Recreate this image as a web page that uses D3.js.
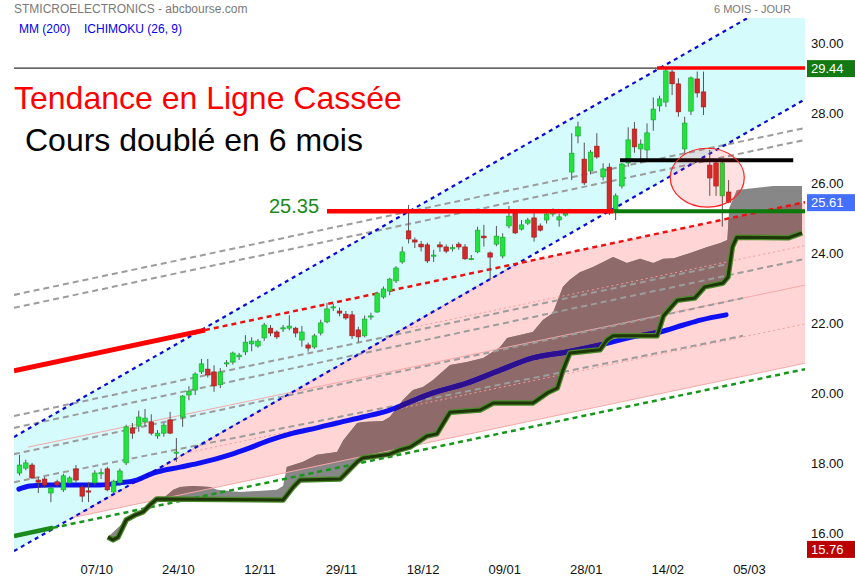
<!DOCTYPE html>
<html><head><meta charset="utf-8">
<script src="https://cdn.jsdelivr.net/npm/d3@7"></script>
<style>body{margin:0;background:#fff}svg{display:block;font-family:"Liberation Sans",Arial,sans-serif}</style>
</head><body><svg id="c" width="855" height="580"></svg>
<script>
// ---------- DATA ----------
// daily candles [open, high, low, close], index 0 = first trading day shown
const candles = [
[17.87,18.39,17.80,18.10],[18.01,18.25,17.95,18.16],[18.10,18.16,17.70,17.73],[17.67,17.75,17.30,17.61],
[17.70,17.76,17.45,17.53],[17.30,17.50,17.04,17.44],[17.62,17.68,17.48,17.53],[17.39,17.85,17.33,17.79],
[17.59,17.78,17.55,17.73],[17.99,18.10,17.60,17.67],[17.47,17.52,17.04,17.21],[17.36,17.61,17.04,17.33],
[17.59,17.95,17.52,17.87],[17.85,18.00,17.70,17.88],[17.99,18.05,17.35,17.39],[17.33,17.68,17.28,17.64],
[17.59,18.00,17.50,17.93],[18.16,19.25,18.10,19.19],[19.16,19.30,18.85,19.01],[19.21,19.65,19.05,19.47],
[19.33,19.70,19.20,19.44],[19.33,19.55,18.95,19.01],[18.93,19.10,18.85,19.01],[19.01,19.30,18.91,19.24],
[19.39,19.62,18.98,19.01],[18.44,18.87,18.19,18.47],[19.47,20.10,19.19,20.07],[20.10,20.35,19.95,20.21],
[20.24,20.75,20.10,20.70],[20.76,21.13,20.70,20.99],[20.84,21.13,20.60,20.67],[20.76,20.95,20.19,20.36],
[20.39,20.87,20.30,20.76],[21.00,21.10,20.90,21.02],[21.04,21.34,20.97,21.30],[21.19,21.30,21.10,21.24],
[21.33,21.81,21.24,21.61],[21.56,21.75,21.35,21.64],[21.50,21.70,21.45,21.64],[21.73,22.16,21.65,22.10],
[22.01,22.10,21.78,21.87],[21.90,21.95,21.70,21.76],[22.00,22.10,21.90,22.02],[22.01,22.38,21.95,22.07],
[22.01,22.05,21.75,21.87],[21.67,22.07,21.48,21.90],[21.53,21.60,21.34,21.44],[21.47,21.85,21.42,21.79],
[21.87,22.25,21.80,22.16],[22.19,22.73,22.15,22.56],[22.60,22.70,22.50,22.62],[22.50,22.60,22.35,22.44],
[22.41,22.50,22.25,22.30],[22.39,22.50,21.70,21.79],[21.96,22.05,21.61,21.76],[21.79,22.37,21.75,22.27],
[22.34,22.45,22.25,22.36],[22.47,23.05,22.45,23.01],[22.90,23.20,22.85,23.13],[23.07,23.45,22.95,23.41],
[23.36,23.78,23.30,23.73],[23.90,24.34,23.85,24.19],[24.79,25.53,24.43,24.56],[24.53,24.60,24.30,24.47],
[24.41,24.50,24.20,24.33],[24.39,24.45,23.87,23.93],[24.08,24.25,23.90,24.10],[24.39,24.48,24.19,24.33],
[24.33,24.40,24.15,24.21],[24.29,24.40,24.20,24.31],[24.41,24.47,24.25,24.33],[24.33,24.41,23.96,23.99],
[23.98,24.10,23.95,24.00],[24.19,24.91,24.15,24.81],[24.64,24.96,24.34,24.59],[24.16,24.20,23.39,24.04],
[24.41,24.93,24.35,24.64],[24.07,24.72,24.00,24.61],[24.93,25.50,24.86,25.21],[25.30,25.39,24.70,24.73],
[24.84,25.10,24.80,24.96],[25.01,25.16,24.96,25.10],[25.16,25.39,24.48,24.61],[24.93,25.00,24.77,24.81],
[25.10,25.35,25.00,25.27],[25.27,25.43,25.20,25.36],[25.10,25.28,24.91,25.19],[25.24,25.36,25.20,25.30],
[26.47,27.58,26.24,27.01],[27.50,27.91,27.29,27.76],[26.84,27.31,26.10,26.16],[26.50,27.10,26.40,27.04],
[27.21,27.58,26.85,26.90],[26.33,26.72,26.23,26.56],[26.61,26.72,25.24,25.30],[25.39,25.86,25.10,25.79],
[26.07,26.73,26.00,26.70],[26.73,27.75,26.62,27.39],[27.70,27.90,27.02,27.19],[27.13,27.40,26.73,27.27],
[27.10,27.86,26.81,27.59],[27.96,28.60,27.65,28.27],[28.36,28.65,28.20,28.56],[28.47,29.44,28.33,29.36],
[29.33,29.39,28.67,28.99],[28.99,29.15,28.05,28.19],[27.13,28.05,27.01,27.87],[28.21,29.20,28.10,29.16],
[29.13,29.34,28.60,28.73],[28.76,29.34,28.10,28.33],[26.67,27.10,25.79,26.30],[26.73,26.86,25.79,26.07],
[25.79,26.80,24.91,26.73],[25.90,26.24,25.58,25.61]
];
const xTicks = [[12,"07/10"],[25,"24/10"],[38,"12/11"],[51,"29/11"],[64,"18/12"],[77,"09/01"],[90,"28/01"],[103,"14/02"],[116,"05/03"]];
const yTicks = [30,28,26,24,22,20,18,16];
// moving average 200 [index, price]
const mm200 = [[-0.1,17.41],[1.7,17.50],[4.9,17.53],[12.8,17.53],[16.0,17.59],[18.7,17.67],[21.3,17.87],[25.6,18.04],
[28.8,18.16],[33.5,18.39],[36.7,18.59],[39.9,18.81],[43.6,19.01],[47.4,19.16],[50.6,19.30],[54.7,19.47],[59.0,19.67],
[62.2,19.90],[65.9,20.16],[71.3,20.44],[76.6,20.81],[81.8,21.16],[87.2,21.33],[92.5,21.53],[97.8,21.76],[102.1,21.90],
[105.8,22.10],[108.5,22.24],[112.6,22.39]];
// Ichimoku senkou spans (already shifted) [index, price]
const spanA = [[14.1,16.04],[17.0,16.53],[20.8,16.96],[21.9,17.13],[23.2,17.19],[24.5,17.39],[25.6,17.47],[27.7,17.50],
[30.4,17.47],[31.5,17.39],[35.1,17.33],[41.0,17.39],[42.0,17.50],[42.6,18.04],[45.2,18.19],[47.4,18.39],[50.6,18.47],
[51.6,18.81],[53.8,19.30],[54.7,19.33],[57.9,19.36],[59.0,19.47],[61.1,19.96],[62.7,20.24],[64.3,20.33],[65.9,20.53],
[68.6,20.96],[71.3,21.04],[73.9,21.16],[76.6,21.47],[77.7,21.73],[81.8,21.90],[83.4,22.24],[85.0,22.44],[86.6,23.19],
[87.7,23.39],[89.3,23.61],[91.4,23.76],[94.6,24.04],[96.8,23.87],[98.9,23.99],[101.0,23.87],[102.6,23.99],[104.3,24.01],
[106.9,24.16],[109.6,24.33],[111.7,24.44],[112.8,24.53],[113.1,25.44],[114.3,25.96],[120.1,26.07],[124.7,26.07]];
const spanB = [[14.1,16.04],[14.9,15.96],[15.7,16.04],[17.0,16.53],[18.4,16.67],[19.7,16.76],[20.8,16.96],[21.9,17.13],
[42.0,17.10],[42.6,17.24],[43.6,17.47],[44.7,17.67],[51.1,17.70],[52.2,17.90],[53.8,18.19],[54.7,18.30],[59.0,18.41],
[60.6,18.53],[62.2,18.61],[63.8,18.79],[64.9,18.93],[66.5,18.99],[68.6,19.61],[73.4,19.67],[75.5,19.87],[81.8,19.87],
[84.1,20.16],[85.7,20.30],[86.6,20.81],[87.7,21.30],[92.5,21.39],[93.6,21.67],[94.6,21.79],[101.6,21.79],[102.6,22.36],
[104.8,22.81],[107.6,22.87],[109.2,23.19],[112.1,23.30],[112.9,23.47],[113.6,24.33],[114.3,24.61],[122.5,24.59],[124.7,24.73]];
// drawn trend lines: two anchors [index, price]
const blueUpper = [[-0.88,18.90],[125.2,31.81]];
const blueLower = [[-0.88,15.64],[125.2,28.55]];
const redTrend = [[-0.88,20.79],[125.2,25.61]];
const redBreakIdx = 29.56;
const greenTrend = [[-0.88,16.07],[125.2,20.84]];
const greenBreakIdx = 5.34;
const wedgeLow = [[8.53,16.60],[125.2,21.01]];
const pinkMid = [[1.35,18.61],[125.2,23.24]];
const pinkDots = [[[8.53,20.01],[125.2,24.37]],[[8.53,17.77],[125.2,22.13]]];
const grayLines = [
 [[-0.88,22.96],[125.2,27.73]],[[-0.88,22.59],[125.2,27.39]],[[-0.88,19.50],[112.75,23.84]],
 [[-0.88,19.16],[125.2,23.99]],[[-0.88,18.41],[115.3,22.87]],[[-0.88,17.61],[115.3,21.79]]];
const highLevel = 29.44, highFrom = 101.6;
const resistLevel = 26.81, resistRange = [95.7,123.3];
const supportLevel = 25.35, supportRange = [49.0,94.6];
const lastPrice = 25.61, lowPrice = 15.76;
const circle = {i:109.6, p:26.31, di:5.9, dp:0.84};

// ---------- SCALES ----------
const svg = d3.select("#c");
const x = d3.scaleLinear().domain([0,113]).range([19.5,728.6]);
const y = d3.scaleLinear().domain([16,30]).range([538.5,48.5]);
const L = 14, R = 805, T = 18, B = 560;
const iL = x.invert(L), iR = x.invert(R);
const at = (ln,i)=> ln[0][1] + (ln[1][1]-ln[0][1])*(i-ln[0][0])/(ln[1][0]-ln[0][0]);
const slope = ln => (ln[1][1]-ln[0][1])/(ln[1][0]-ln[0][0]);
const line = d3.line().x(d=>x(d[0])).y(d=>y(d[1]));

const defs = svg.append("defs");
defs.append("clipPath").attr("id","plot").append("rect").attr("x",L).attr("y",T).attr("width",R-L).attr("height",B-T);

// wedge polygon
const apex = wedgeLow[0];
const tI = (redTrend[0][1]-blueLower[0][1])/(slope(blueLower)-slope(redTrend)) + blueLower[0][0];
const wedge = [apex,[tI,at(redTrend,tI)],[iR,at(redTrend,iR)],[iR,at(wedgeLow,iR)]];
defs.append("clipPath").attr("id","wedge").append("path").attr("d",line(wedge)+"Z");
const cloud = spanA.concat(spanB.slice().reverse());
defs.append("clipPath").attr("id","cloud").append("path").attr("d",line(cloud)+"Z");

const g = svg.append("g").attr("clip-path","url(#plot)");

// pink wedge
g.append("path").attr("d",line(wedge)+"Z").attr("fill","#ffd5d5");
// cyan channel
const chan = [[iL,at(blueUpper,iL)],[iR,at(blueUpper,iR)],[iR,at(blueLower,iR)],[iL,at(blueLower,iL)]];
g.append("path").attr("d",line(chan)+"Z").attr("fill","#d5fbfd");

// cloud
g.append("path").attr("d",line(cloud)+"Z").attr("fill","#878787");
g.append("g").attr("clip-path","url(#wedge)").append("path").attr("d",line(cloud)+"Z").attr("fill","#8f6a6a");

// pink lines
g.append("path").attr("d",line([apex,wedge[1]])).attr("stroke","#f7a8a8").attr("fill","none").attr("stroke-width",1);
g.append("path").attr("d",line(wedgeLow)).attr("stroke","#f7a8a8").attr("fill","none").attr("stroke-width",1);
g.append("path").attr("d",line(pinkMid)).attr("stroke","#f7a8a8").attr("fill","none").attr("stroke-width",1);
const gd = g.append("g").attr("clip-path","url(#wedge)");
pinkDots.forEach(d=>gd.append("path").attr("d",line(d)).attr("stroke","#f39a9a").attr("fill","none")
  .attr("stroke-width",1).attr("stroke-dasharray","2 3"));

// gray dashed
grayLines.forEach(d=>g.append("path").attr("d",line(d)).attr("stroke","#9c9c9c").attr("fill","none")
  .attr("stroke-width",2).attr("stroke-dasharray","6 4"));

// MM200
const mmLine = d3.line().curve(d3.curveMonotoneX).x(d=>x(d[0])).y(d=>y(d[1]));
g.append("path").attr("d",mmLine(mm200))
  .attr("stroke","#1010f5").attr("stroke-width",5).attr("fill","none").attr("stroke-linecap","round");
g.append("g").attr("clip-path","url(#cloud)").append("path").attr("d",mmLine(mm200))
  .attr("stroke","#2c1090").attr("stroke-width",5).attr("fill","none");

// trend lines
const dl = (ln,col,w,dash)=>g.append("path").attr("d",line(ln)).attr("stroke",col).attr("stroke-width",w)
  .attr("fill","none").attr("stroke-dasharray",dash||null);
dl([[iL,at(blueUpper,iL)],[iR,at(blueUpper,iR)]],"#0a0ad8",2.2,"4 4");
dl([[iL,at(blueLower,iL)],[iR,at(blueLower,iR)]],"#0a0ad8",2.2,"4 4");
dl([[iL,at(redTrend,iL)],[redBreakIdx,at(redTrend,redBreakIdx)]],"#ff0000",5);
dl([[redBreakIdx,at(redTrend,redBreakIdx)],[iR,at(redTrend,iR)]],"#ee1111",2.5,"5 4");
dl([[iL,at(greenTrend,iL)],[greenBreakIdx,at(greenTrend,greenBreakIdx)]],"#1a8a1a",4.5);
dl([[greenBreakIdx,at(greenTrend,greenBreakIdx)],[iR,at(greenTrend,iR)]],"#16961a",2.5,"5 4");

// span B thick line
g.append("path").attr("d",line(spanB)).attr("stroke","#4a8a2a").attr("stroke-width",5.5).attr("fill","none").attr("stroke-linejoin","round");
g.append("path").attr("d",line(spanB)).attr("stroke","#1e3608").attr("stroke-width",3).attr("fill","none").attr("stroke-linejoin","round");

// candles
const cg = g.append("g");
candles.forEach((c,i)=>{
  const [o,h,l,cl]=c, up = cl>=o;
  cg.append("line").attr("x1",x(i)).attr("x2",x(i)).attr("y1",y(h)).attr("y2",y(l))
    .attr("stroke","#555").attr("stroke-width",1);
  const top=y(Math.max(o,cl)), hgt=Math.max(1.2,Math.abs(y(o)-y(cl)));
  cg.append("rect").attr("x",x(i)-2.3).attr("width",4.6).attr("y",top).attr("height",hgt)
    .attr("fill",up?"#22e23e":"#d02a2a").attr("stroke",up?"#15a52a":"#a01818").attr("stroke-width",0.6);
});

// horizontal levels
const hl = (i0,i1,p,col,w)=>g.append("line").attr("x1",x(i0)).attr("x2",x(i1)).attr("y1",y(p)).attr("y2",y(p))
  .attr("stroke",col).attr("stroke-width",w);
hl(iL,highFrom,highLevel,"#000",1);
hl(highFrom,iR,highLevel,"#ff0000",3.5);
hl(resistRange[0],resistRange[1],resistLevel,"#000",4);
hl(supportRange[0],supportRange[1],supportLevel,"#ff0000",4.5);
hl(supportRange[1],iR,supportLevel,"#0a7a0a",4);

// ellipse
g.append("ellipse").attr("cx",x(circle.i)).attr("cy",y(circle.p))
  .attr("rx",x(circle.i+circle.di)-x(circle.i)).attr("ry",y(circle.p-circle.dp)-y(circle.p))
  .attr("fill","rgba(255,40,40,0.14)").attr("stroke","#ff2020").attr("stroke-width",1.2);

// ---------- TEXT ----------
svg.append("text").attr("x",14).attr("y",13).attr("font-size",12).attr("fill","#7a7a7a").text("STMICROELECTRONICS - abcbourse.com");
svg.append("text").attr("x",791).attr("y",13).attr("font-size",11).attr("fill","#7a7a7a").attr("text-anchor","end").text("6 MOIS - JOUR");
svg.append("text").attr("x",19).attr("y",33).attr("font-size",12).attr("fill","#0000ee").text("MM (200)");
svg.append("text").attr("x",84).attr("y",33).attr("font-size",12).attr("fill","#0000ee").text("ICHIMOKU (26, 9)");
svg.append("text").attr("x",14).attr("y",109).attr("font-size",32).attr("fill","#ff0000").text("Tendance en Ligne Cassée");
svg.append("text").attr("x",25).attr("y",151).attr("font-size",32).attr("fill","#000").text("Cours doublé en 6 mois");
svg.append("text").attr("x",269).attr("y",213).attr("font-size",20).attr("fill","#1a8a1a").text(supportLevel.toFixed(2));

// y axis labels
yTicks.forEach(v=>svg.append("text").attr("x",811).attr("y",y(v)-0.5).attr("font-size",13).attr("fill","#111").text(v.toFixed(2)));
const box=(p,col,dy)=>{
  svg.append("rect").attr("x",807).attr("y",y(p)-8+dy).attr("width",48).attr("height",17).attr("fill",col);
  svg.append("text").attr("x",811).attr("y",y(p)+5+dy).attr("font-size",13).attr("fill","#fff").text(p.toFixed(2));
};
box(highLevel,"#137a13",0); box(lastPrice,"#4470ff",0); box(lowPrice,"#bb0000",2);

// x axis labels
xTicks.forEach(([i,t])=>svg.append("text").attr("x",x(i)+2).attr("y",574).attr("font-size",13)
  .attr("text-anchor","middle").attr("fill","#111").text(t));
</script></body></html>
